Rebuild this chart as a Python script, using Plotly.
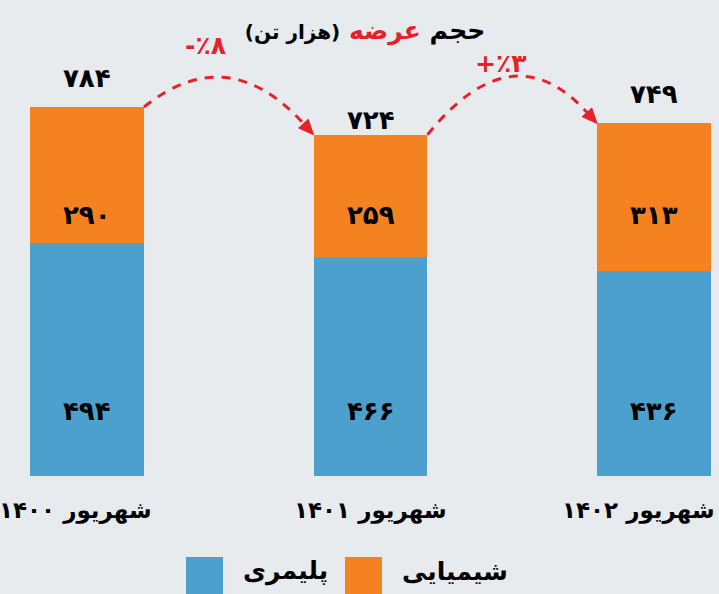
import math
import plotly.graph_objects as go

# ---- data ----
categories = ["شهریور ۱۴۰۰", "شهریور ۱۴۰۱", "شهریور ۱۴۰۲"]
series_names = ["پلیمری", "شیمیایی"]
polymer = [494, 466, 436]
chemical = [290, 259, 313]
polymer_labels = ["۴۹۴", "۴۶۶", "۴۳۶"]
chemical_labels = ["۲۹۰", "۲۵۹", "۳۱۳"]
total_labels = ["۷۸۴", "۷۲۴", "۷۴۹"]
change_labels = ["-٪۸", "+٪۳"]

BLUE = "#4BA0CD"
ORANGE = "#F58220"
RED = "#E8202A"
BG = "#E7EBEE"
FONT = "DejaVu Sans"

totals = [p + c for p, c in zip(polymer, chemical)]
xs = list(range(len(categories)))

W, H = 719, 594
MT, MB = 30, 118
PH = H - MT - MB
x0c, dxc = 87.0, 283.5        # px of first category center, px per category
ppu = 0.4707                  # px per unit on y
ybot = H - MB


def px2x(px):
    return (px - x0c) / dxc


def py2y(py):
    return (ybot - py) / ppu


def x2px(x):
    return x0c + x * dxc


def y2py(y):
    return ybot - y * ppu


def py2paper(py):
    return (ybot - py) / PH


fig = go.Figure()
fig.add_trace(go.Bar(x=xs, y=polymer, name=series_names[0], marker_color=BLUE,
                     width=0.402, marker_line_width=0, hoverinfo="skip"))
fig.add_trace(go.Bar(x=xs, y=chemical, name=series_names[1], marker_color=ORANGE,
                     width=0.402, marker_line_width=0, hoverinfo="skip"))

annotations = []
num_font = dict(family=FONT, size=26, color="black")
total_shift = [29, 15, 29]
for i in xs:
    annotations.append(dict(x=i, y=py2y(411), text="<b>" + polymer_labels[i] + "</b>",
                            showarrow=False, font=num_font, xref="x", yref="y"))
    annotations.append(dict(x=i, y=py2y(215), text="<b>" + chemical_labels[i] + "</b>",
                            showarrow=False, font=num_font, xref="x", yref="y"))
    annotations.append(dict(x=i, y=totals[i], text="<b>" + total_labels[i] + "</b>",
                            showarrow=False, font=num_font, xref="x", yref="y",
                            yshift=total_shift[i]))

# category labels under bars
cat_pos = [(75, "center"), (370, "center"), (717, "right")]
for i, (px, anc) in enumerate(cat_pos):
    annotations.append(dict(x=px / W, y=py2paper(526), xref="paper", yref="paper",
                            xanchor=anc, text="<b>" + categories[i] + "</b>",
                            showarrow=False,
                            font=dict(family=FONT, size=23, color="black")))

# curved dashed arrows between bar tops
shapes = []
bw = 0.402 / 2
arrow_defs = [
    (0, 1, (228, 40), (205, 45)),
    (1, 2, (512, 30), (500, 63)),
]
for k, (a, b, ctrl, lab) in enumerate(arrow_defs):
    sx, sy = a + bw, totals[a]
    ex, ey = b - bw, totals[b]
    cx, cy = px2x(ctrl[0]), py2y(ctrl[1])
    # arrowhead geometry in pixel space
    tx, ty = x2px(ex), y2py(ey)
    dx, dy = tx - ctrl[0], ty - ctrl[1]
    n = math.hypot(dx, dy)
    ux, uy = dx / n, dy / n
    bx, by = tx - 15 * ux, ty - 15 * uy
    px_, py_ = -uy * 6.5, ux * 6.5
    # curve ends at arrowhead base
    shapes.append(dict(type="path", xref="x", yref="y",
                       path=f"M {sx},{sy} Q {cx},{cy} {px2x(bx)},{py2y(by)}",
                       line=dict(color=RED, width=3, dash="9px,8px")))
    shapes.append(dict(type="path", xref="x", yref="y",
                       path=(f"M {ex},{ey} L {px2x(bx + px_)},{py2y(by + py_)} "
                             f"L {px2x(bx - px_)},{py2y(by - py_)} Z"),
                       fillcolor=RED, line=dict(color=RED, width=1)))
    annotations.append(dict(x=px2x(lab[0]), y=py2y(lab[1]),
                            text="<b>" + change_labels[k] + "</b>",
                            showarrow=False, xref="x", yref="y",
                            font=dict(family=FONT, size=25, color=RED)))

# manual legend (large squares)
leg = [(186, 223, 285, series_names[0], BLUE), (345, 382, 455, series_names[1], ORANGE)]
for (l, r, tx, name, col) in leg:
    shapes.append(dict(type="rect", xref="paper", yref="paper",
                       x0=l / W, x1=r / W, y0=py2paper(600), y1=py2paper(557),
                       fillcolor=col, line_width=0))
    annotations.append(dict(x=tx / W, y=py2paper(588), xref="paper", yref="paper",
                            text="<b>" + name + "</b>", showarrow=False,
                            font=dict(family=FONT, size=25, color="black")))

title_text = ("\u200f<b>حجم <span style='color:%s'>عرضه</span> "
              "<span style='font-size:20px'>(هزار تن)</span></b>\u200f" % RED)

fig.update_layout(
    width=W, height=H,
    margin=dict(l=0, r=0, t=MT, b=MB, pad=0),
    paper_bgcolor=BG, plot_bgcolor=BG,
    barmode="stack", showlegend=False,
    title=dict(text=title_text, x=365 / W, xanchor="center", y=1 - 30 / H,
               yanchor="middle", font=dict(family=FONT, size=25, color="black")),
    xaxis=dict(range=[px2x(0), px2x(W)], tickvals=xs, showticklabels=False,
               showgrid=False, zeroline=False, showline=False, ticks=""),
    yaxis=dict(range=[0, py2y(MT)], visible=False, showgrid=False, zeroline=False),
    annotations=annotations, shapes=shapes,
    font=dict(family=FONT),
)

fig.write_html("out.html", config={"displayModeBar": False},
               post_script="document.body.style.margin='0';document.body.style.overflow='hidden';")
